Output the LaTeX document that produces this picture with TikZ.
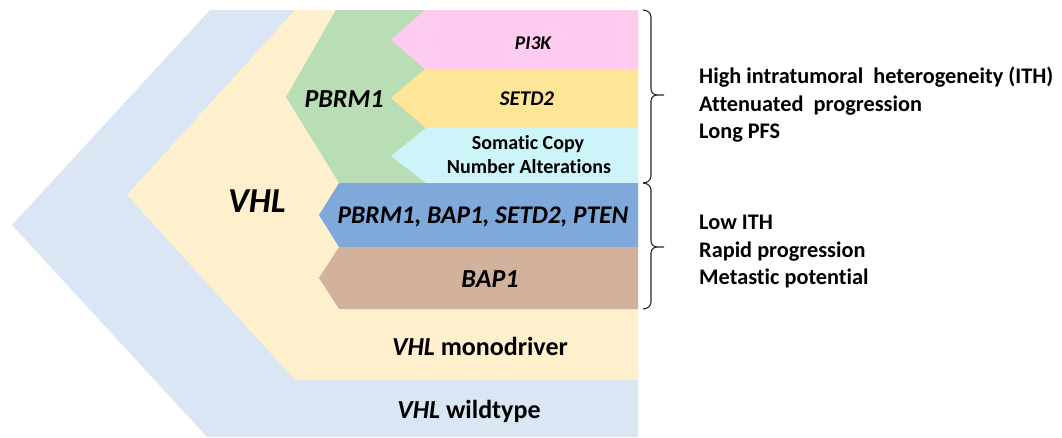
\documentclass[tikz,border=0pt]{standalone}
\usepackage{fontspec}
\setmainfont{Carlito}[Ligatures=NoCommon]
\definecolor{cOuter}{HTML}{DAE6F4}
\definecolor{cBeige}{HTML}{FFF0CD}
\definecolor{cGreen}{HTML}{B9DEB5}
\definecolor{cPink}{HTML}{FFCCEF}
\definecolor{cYellow}{HTML}{FFE597}
\definecolor{cCyan}{HTML}{CCF4F9}
\definecolor{cBlue}{HTML}{7FA9DB}
\definecolor{cBrown}{HTML}{D2B29D}
\begin{document}
\begin{tikzpicture}[x=1pt,y=-1pt,
  band/.style={fill=#1, draw=none},
  txt/.style={inner sep=0pt, anchor=base, text=black},
  fs/.style={font=\fontsize{#1}{#1}\selectfont\bfseries},
  fsi/.style={font=\fontsize{#1}{#1}\selectfont\bfseries\itshape},
  rtxt/.style={inner sep=0pt, anchor=base west, text=black, font=\fontsize{22.3}{22.3}\selectfont\bfseries},
  bracepath/.style={draw=black!85, line width=1.1pt, line join=round}]
\useasboundingbox (0,0) rectangle (1062,437);
% nested chevrons
\fill[band=cOuter] (210,10) -- (638,10) -- (638,437) -- (207,437) -- (12,225) -- cycle;
\fill[band=cBeige] (295,10) -- (638,10) -- (638,380) -- (295,380) -- (127,195) -- cycle;
\fill[band=cGreen] (336,10) -- (440,10) -- (440,183) -- (339,183) -- (286,97) -- cycle;
\fill[band=cPink] (425,10) -- (638,10) -- (638,69) -- (425,69) -- (391,40) -- cycle;
\fill[band=cYellow] (425,69) -- (638,69) -- (638,128) -- (426,128) -- (391,98) -- cycle;
\fill[band=cCyan] (426,128) -- (638,128) -- (638,183) -- (426,183) -- (391,156) -- cycle;
\fill[band=cBlue] (339,183) -- (638,183) -- (638,247) -- (339,247) -- (319,215) -- cycle;
\fill[band=cBrown] (339,247) -- (638,247) -- (638,309) -- (339,309) -- (319,278) -- cycle;
% labels inside
\node[txt, fsi=35] (vhl) at (257,212) {VHL};
\node[txt, fsi=26] (pbrm) at (344,107) {PBRM1};
\node[txt, fsi=19.5] (pik) at (533,49) {PI3K};
\node[txt, fsi=21] (setd) at (527,105) {SETD2};
\node[txt, fs=20] (scna1) at (528,149) {Somatic Copy};
\node[txt, fs=20] (scna2) at (529,173) {Number Alterations};
\node[txt, fsi=25.4] (multi) at (483,223) {PBRM1, BAP1, SETD2, PTEN};
\node[txt, fsi=26] (bap) at (490,287) {BAP1};
\node[txt, fs=26] (mono) at (480,355) {\textit{VHL} monodriver};
\node[txt, fs=26] (wild) at (469,418) {\textit{VHL} wildtype};
% braces
\coordinate (ua) at (643,10);
\coordinate (um) at (664,95);
\coordinate (mid) at (643,183);
\coordinate (lm) at (664,247);
\coordinate (lb) at (643,309);
\draw[bracepath] (ua) to[out=0,in=90] (651,17) -- (651,89) to[out=-90,in=180] (657,95) -- (um);
\draw[bracepath] (657,95) to[out=180,in=90] (651,101) -- (651,176) to[out=-90,in=0] (mid);
\draw[bracepath] (mid) to[out=0,in=90] (651,190) -- (651,241) to[out=-90,in=180] (657,247) -- (lm);
\draw[bracepath] (657,247) to[out=180,in=90] (651,253) -- (651,302) to[out=-90,in=0] (lb);
% right texts
\node[rtxt] (h1) at (699,83) {High intratumoral\ \ heterogeneity (ITH)};
\node[rtxt] (h2) at (699,111) {Attenuated\ \ progression};
\node[rtxt] (h3) at (699,138) {Long PFS};
\node[rtxt] (l1) at (699,229) {Low ITH};
\node[rtxt] (l2) at (699,257) {Rapid progression};
\node[rtxt] (l3) at (699,284) {Metastic potential};
\end{tikzpicture}
\end{document}
